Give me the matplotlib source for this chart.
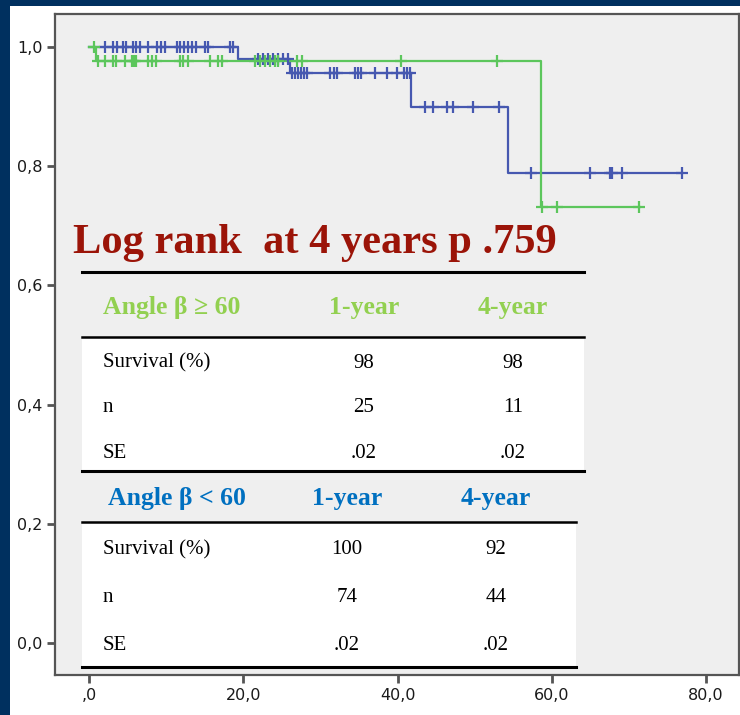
import matplotlib
matplotlib.use("Agg")
import matplotlib.pyplot as plt
from matplotlib.patches import Rectangle
from matplotlib.lines import Line2D
import numpy as np

# ---- data ----
blue_t = [0, 19.3, 26.0, 41.8, 54.3, 76.9]
blue_s = [1.0, 0.980, 0.956, 0.900, 0.788, 0.788]
green_t = [0, 0.9, 58.6, 71.5]
green_s = [1.0, 0.977, 0.732, 0.732]

blue_cens = [2.0, 3.1, 3.6, 4.3, 4.8, 5.7, 6.1, 6.5, 7.6, 8.8, 9.3, 9.8, 11.3, 11.8,
             12.3, 12.8, 13.3, 13.8, 15.0, 15.4, 18.2, 18.7,
             21.9, 22.5, 23.2, 23.8, 24.5, 25.1, 25.8,
             26.3, 26.7, 27.1, 27.5, 27.9, 28.3, 31.2, 31.7, 32.1, 34.5, 34.9, 35.2,
             37.1, 38.6, 39.9, 40.8, 41.2, 41.6,
             43.6, 44.6, 46.4, 47.2, 49.8, 53.2,
             57.4, 65.0, 67.6, 67.8, 69.1, 76.9]
green_cens = [0.6, 1.1, 2.0, 3.1, 3.5, 4.6, 5.5, 5.7, 5.9, 6.1, 7.6, 8.1, 8.7, 11.8,
              12.2, 12.8, 15.6, 16.7, 17.2, 21.5, 22.1, 22.8, 23.4, 24.1, 24.5,
              26.9, 27.6, 40.5, 52.9,
              58.8, 60.7, 71.4]

x_ticks = [0, 20, 40, 60, 80]
x_labels = [",0", "20,0", "40,0", "60,0", "80,0"]
y_ticks = [0.0, 0.2, 0.4, 0.6, 0.8, 1.0]
y_labels = ["0,0", "0,2", "0,4", "0,6", "0,8", "1,0"]

title_text = "Log rank  at 4 years p .759"
t1_header = ["Angle β ≥ 60", "1-year", "4-year"]
t1_rows = [["Survival (%)", "98", "98"], ["n", "25", "11"], ["SE", ".02", ".02"]]
t2_header = ["Angle β < 60", "1-year", "4-year"]
t2_rows = [["Survival (%)", "100", "92"], ["n", "74", "44"], ["SE", ".02", ".02"]]

BLUE = "#4658b0"
GREEN = "#5cc65c"
NAVY = "#00305f"
BG = "#efefef"

W, H = 740, 715
fig = plt.figure(figsize=(W / 100, H / 100), dpi=100)
fig.patch.set_facecolor("white")

def fx(x):
    return x / W

def fy(y):
    return 1 - y / H

# navy borders
fig.patches.append(Rectangle((0, 0), fx(10), 1, transform=fig.transFigure,
                             facecolor=NAVY, edgecolor="none", zorder=0))
fig.patches.append(Rectangle((0, fy(6)), 1, 6 / H, transform=fig.transFigure,
                             facecolor=NAVY, edgecolor="none", zorder=0))

ax_l, ax_r, ax_t, ax_b = 55, 739, 14, 675
ax = fig.add_axes([fx(ax_l), fy(ax_b), (ax_r - ax_l) / W, (ax_b - ax_t) / H])
ax.set_facecolor(BG)
ax.set_xlim(-4.48, 84.35)
ax.set_ylim(-0.0537, 1.0554)
for sp in ax.spines.values():
    sp.set_color("#555555")
    sp.set_linewidth(1.6)

ax.set_xticks(x_ticks)
ax.set_xticklabels(x_labels)
ax.set_yticks(y_ticks)
ax.set_yticklabels(y_labels)
ax.tick_params(direction="out", length=6, width=2, color="#555555",
               labelsize=11.5, labelcolor="#1a1a1a", pad=3)

def step_val(ts, ss, t):
    idx = np.searchsorted(ts, t, side="right") - 1
    return ss[max(idx, 0)]

ax.step(blue_t, blue_s, where="post", color=BLUE, lw=1.6, zorder=3)
ax.step(green_t, green_s, where="post", color=GREEN, lw=1.6, zorder=3)
by = [step_val(blue_t, blue_s, t) for t in blue_cens]
gy = [step_val(green_t, green_s, t) for t in green_cens]
ax.plot(blue_cens, by, ls="none", marker="+", ms=8, mew=1.6, color=BLUE, zorder=4)
ax.plot(green_cens, gy, ls="none", marker="+", ms=8, mew=1.6, color=GREEN, zorder=4)

# ---- overlay title and tables (figure pixel coordinates) ----
serif = ["Liberation Serif", "DejaVu Serif"]

fig.text(fx(73), fy(243), title_text, color="#9b1408", fontsize=30.6,
         fontweight="bold", family=serif, ha="left", va="center", zorder=10)

def hline(y, x0, x1, lw):
    fig.add_artist(Line2D([fx(x0), fx(x1)], [fy(y), fy(y)], color="black",
                          lw=lw, transform=fig.transFigure, zorder=9))

def wbox(y0, y1, x0, x1):
    fig.patches.append(Rectangle((fx(x0), fy(y1)), (x1 - x0) / W, (y1 - y0) / H,
                                 transform=fig.transFigure, facecolor="white",
                                 edgecolor="none", zorder=8))

# table 1
wbox(337, 471, 82, 584)
hline(272, 82, 584, 2.2)
hline(337, 82, 584, 1.8)
hline(471, 82, 584, 2.2)
t1_cols = [103, 364, 513]
for i, txt in enumerate(t1_header):
    fig.text(fx(t1_cols[i]), fy(307), txt, color="#92d050", fontsize=18.5,
             fontweight="bold", family=serif, ha="left" if i == 0 else "center",
             va="center", zorder=10)
for r, yy in zip(t1_rows, [363, 408, 454]):
    for i, txt in enumerate(r):
        fig.text(fx(t1_cols[i]), fy(yy), txt, color="black", fontsize=15,
                 family=serif, ha="left" if i == 0 else "center",
                 va="center", zorder=10)

# table 2
wbox(522, 667, 82, 576)
hline(522, 82, 576, 1.8)
hline(667, 82, 576, 2.2)
t2_hcols = [108, 347, 496]
for i, txt in enumerate(t2_header):
    fig.text(fx(t2_hcols[i]), fy(499), txt, color="#0070c0", fontsize=18.5,
             fontweight="bold", family=serif, ha="left" if i == 0 else "center",
             va="center", zorder=10)
t2_cols = [103, 347, 496]
for r, yy in zip(t2_rows, [550, 598, 646]):
    for i, txt in enumerate(r):
        fig.text(fx(t2_cols[i]), fy(yy), txt, color="black", fontsize=15,
                 family=serif, ha="left" if i == 0 else "center",
                 va="center", zorder=10)

fig.savefig("out.png", dpi=100, facecolor=fig.get_facecolor())
